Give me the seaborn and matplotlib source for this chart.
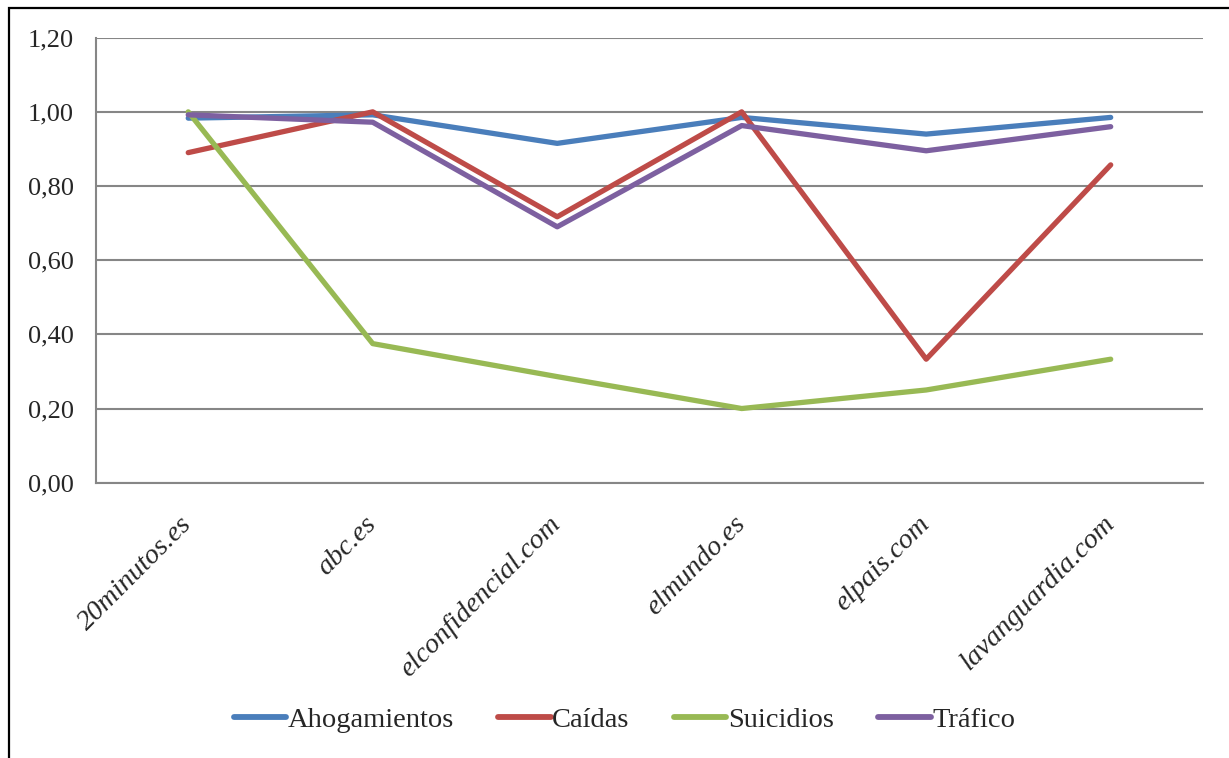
import pandas as pd
import numpy as np
import matplotlib
matplotlib.use("Agg")
import matplotlib.pyplot as plt
import seaborn as sns
from matplotlib.patches import Rectangle
from matplotlib.ticker import FixedLocator, NullFormatter

sns.set_style("white")
plt.rcParams['font.family'] = ['Liberation Serif', 'DejaVu Serif']

# datos
sitios = ['20minutos.es', 'abc.es', 'elconfidencial.com', 'elmundo.es', 'elpais.com', 'lavanguardia.com']
ahogamientos = [0.983, 0.992, 0.915, 0.985, 0.940, 0.985]
caidas = [0.890, 1.000, 0.717, 1.000, 0.333, 0.857]
suicidios = [1.000, 0.375, 0.286, 0.200, 0.250, 0.333]
trafico = [0.992, 0.972, 0.690, 0.963, 0.895, 0.960]
series = ['Ahogamientos', 'Caídas', 'Suicidios', 'Tráfico']
colores = ['#4A7EBB', '#BE4B48', '#98B954', '#7D60A0']
yticks = [0.0, 0.2, 0.4, 0.6, 0.8, 1.0, 1.2]

df = pd.DataFrame({'sitio': sitios * 4,
                   'serie': np.repeat(series, len(sitios)),
                   'valor': ahogamientos + caidas + suicidios + trafico})
df['pos'] = np.tile(np.arange(len(sitios)), 4)

fig = plt.figure(figsize=(12.29, 7.58), dpi=100)
ax = fig.add_axes([0.0781, 0.3632, 0.9007, 0.5871])

sns.lineplot(data=df, x='pos', y='valor', hue='serie', palette=colores,
             linewidth=3.8, sort=False, ax=ax, solid_capstyle='round')

ax.set_xlim(-0.5, len(sitios) - 0.5)
ax.set_ylim(0, 1.2)
ax.set_yticks(yticks)
ax.set_yticklabels([f"{v:.2f}".replace('.', ',') for v in yticks], fontsize=19)
ax.yaxis.grid(True, color='#868686', linewidth=1.5)
ax.set_axisbelow(True)

# etiquetas en el centro, marcas entre categorias
ax.set_xticks(range(len(sitios)))
ax.set_xticklabels(sitios, rotation=45, ha='right', va='center',
                   rotation_mode='anchor', fontsize=20.5, style='italic')
ax.tick_params(axis='x', which='major', length=0, pad=27)
ax.xaxis.set_minor_locator(FixedLocator(np.arange(-0.5, len(sitios), 1.0)))
ax.xaxis.set_minor_formatter(NullFormatter())
ax.tick_params(axis='x', which='minor', length=7, width=1.5, color='#868686', direction='out')
ax.tick_params(axis='y', length=8, width=1.5, color='#868686', direction='out', pad=8)

for s in ['top', 'right']:
    ax.spines[s].set_visible(False)
for s in ['left', 'bottom']:
    ax.spines[s].set_color('#868686')
    ax.spines[s].set_linewidth(1.5)
ax.set_xlabel('')
ax.set_ylabel('')

leg = ax.legend(loc='center', bbox_to_anchor=(0.508, (758 - 720) / 758), bbox_transform=fig.transFigure,
                ncol=4, frameon=False, fontsize=20.5, handlelength=1.85, handletextpad=0.05,
                columnspacing=1.55)
for h in leg.get_lines():
    h.set_linewidth(4.2)

# marco del grafico
fig.patches.append(Rectangle((9 / 1229, -0.1), 1.2, (758 - 8) / 758 + 0.1,
                             transform=fig.transFigure, fill=False,
                             edgecolor='black', linewidth=1.6))

fig.savefig('out.png', dpi=100)
